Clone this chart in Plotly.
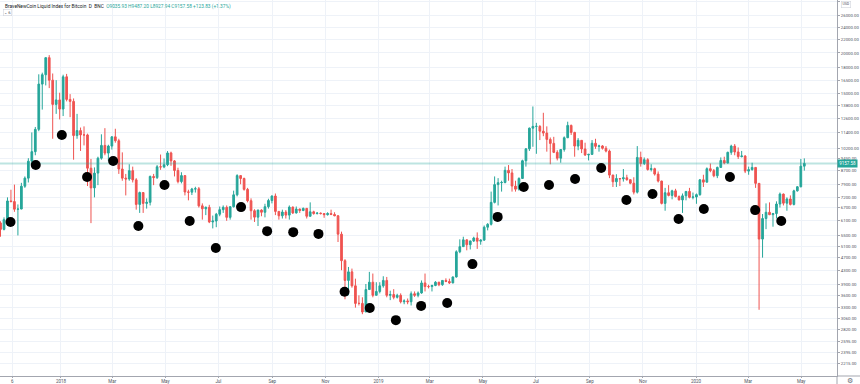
import math
import pandas as pd
import plotly.graph_objects as go

# ---------------- data ----------------
candle_start = "2017-10-22"          # first 4-day candle
candle_days = 4
first_open = 6010

closes = [5740, 6150, 7020, 6990, 6620, 6630, 7790, 8250, 9300, 9950,
          11650, 16050, 17150, 19350, 16500, 13900, 14350, 13450, 16900, 14400,
          14200, 11150, 11550, 11200, 11200, 8850, 7700, 8550, 9500, 10400,
          9850, 10350, 11050, 10750, 8800, 8250, 8200, 8700, 8150, 6850,
          7450, 6900, 6950, 8350, 8280, 8940, 8930, 9070, 9860, 9320,
          8710, 8050, 8400, 7480, 7470, 7640, 7650, 6780, 6640, 6710,
          6050, 6090, 6390, 6600, 6710, 6250, 6740, 7330, 8400, 8230,
          7620, 7030, 6550, 6260, 6580, 6480, 6740, 7040, 7270, 6520,
          6320, 6490, 6350, 6720, 6450, 6630, 6560, 6660, 6300, 6500,
          6420, 6440, 6420, 6370, 6420, 6380, 6320, 5550, 4600, 4000,
          4250, 3850, 3400, 3400, 3200, 3750, 3950, 3600, 3700, 3850,
          4000, 3600, 3620, 3550, 3600, 3440, 3460, 3440, 3640, 3600,
          3660, 3930, 3830, 3830, 3860, 3950, 3880, 4000, 3970, 3930,
          4100, 4900, 5080, 5330, 5150, 5290, 5400, 5280, 5320, 5830,
          5950, 6950, 7880, 7990, 8000, 8720, 8560, 7800, 7630, 8230,
          9330, 10150, 11750, 11900, 11900, 11500, 11350, 10850, 10550, 9900,
          9500, 10100, 10980, 11980, 11400, 10350, 10780, 10140, 9720, 9760,
          10560, 10330, 10360, 10190, 9990, 8430, 8040, 8230, 8210, 8270,
          8160, 7960, 7470, 9550, 9150, 9400, 8770, 8820, 8490, 8080,
          6900, 7440, 7300, 7540, 7240, 7070, 7280, 7510, 7200, 7220,
          7340, 8150, 8020, 8820, 8700, 8390, 8900, 9350, 9180, 9900,
          10350, 9930, 9610, 9650, 8670, 8760, 8900, 7950, 5360, 6200,
          6480, 6370, 6420, 6870, 7370, 6910, 7120, 6850, 7540, 7760,
          8980, 9157.58]

highs = [6080, 6250, 7200, 7600, 7880, 6850, 7980, 8350, 9500, 11400,
         11850, 17200, 17400, 19400, 19700, 17300, 16500, 15100, 17150, 17250,
         14950, 14500, 13000, 11800, 11900, 11300, 9450, 8900, 9600, 11250,
         11750, 10450, 11100, 11700, 10900, 9900, 8500, 9100, 8950, 8250,
         7500, 7450, 7150, 8400, 8500, 9050, 9750, 9480, 9990, 9950,
         9380, 8880, 8600, 8400, 7600, 7700, 7760, 7750, 6900, 6750,
         6830, 6330, 6450, 6750, 6800, 6800, 6750, 7550, 8480, 8400,
         8280, 7700, 7150, 6620, 6600, 6620, 6880, 7130, 7300, 7400,
         6520, 6600, 6580, 6800, 6750, 6750, 6650, 6700, 6680, 6950,
         6550, 6490, 6470, 6440, 6480, 6600, 6480, 6350, 5650, 4650,
         4400, 4350, 4050, 3600, 3550, 3900, 4250, 4200, 3950, 3950,
         4120, 4100, 3720, 3760, 3640, 3650, 3500, 3520, 3700, 3700,
         3700, 4000, 4200, 3880, 3880, 3980, 3960, 4010, 4060, 4050,
         4110, 4950, 5350, 5450, 5350, 5300, 5450, 5620, 5350, 5900,
         6000, 7500, 8350, 8250, 8100, 8950, 9050, 8800, 8100, 8300,
         9400, 10200, 11800, 13700, 12200, 12000, 13100, 11900, 11000, 11050,
         10050, 10120, 11080, 12300, 12050, 11450, 10950, 10800, 10600, 9800,
         10800, 10900, 10450, 10420, 10350, 10100, 8450, 8480, 8250, 8800,
         8450, 8150, 8300, 10350, 9950, 9550, 9500, 9100, 8880, 8650,
         8100, 7700, 7850, 7600, 7650, 7300, 7400, 7520, 7700, 7450,
         7400, 8200, 8450, 8900, 9150, 8800, 8950, 9550, 9600, 9950,
         10450, 10500, 10250, 10000, 9700, 8950, 9200, 8900, 7950, 6400,
         6900, 6950, 6450, 7000, 7450, 7400, 7200, 7300, 7600, 7800,
         9450, 9487.20]

lows = [5450, 5700, 6050, 6950, 6500, 5500, 6620, 7700, 8000, 9000,
        9700, 11500, 13400, 15900, 15600, 10900, 13000, 12500, 12800, 14200,
        12700, 9400, 10900, 10000, 10400, 7800, 6000, 7200, 7850, 9400,
        9700, 9300, 10100, 10600, 8500, 8100, 7300, 8100, 8000, 6600,
        6450, 6450, 6650, 6800, 7850, 8200, 8750, 8850, 8980, 9000,
        8350, 7950, 7950, 7300, 7050, 7320, 7450, 6700, 6150, 6350,
        6000, 5780, 5830, 6300, 6450, 6100, 6150, 6700, 7250, 7900,
        7550, 6950, 6150, 6050, 5880, 6300, 6250, 6650, 6900, 6350,
        6150, 6200, 6200, 6150, 6400, 6420, 6450, 6530, 6200, 6280,
        6370, 6380, 6380, 6230, 6330, 6350, 6300, 5250, 4300, 3500,
        3600, 3800, 3300, 3350, 3150, 3200, 3750, 3550, 3600, 3650,
        3800, 3550, 3480, 3500, 3520, 3400, 3380, 3380, 3350, 3560,
        3550, 3640, 3700, 3780, 3700, 3840, 3840, 3850, 3950, 3900,
        3920, 4080, 4850, 5100, 4950, 4980, 5250, 5000, 5150, 5300,
        5700, 5900, 6900, 6800, 7500, 7950, 8100, 7500, 7500, 7550,
        8200, 8950, 10000, 10300, 9800, 10800, 11100, 9950, 9100, 9850,
        9350, 9200, 9950, 10950, 11200, 9600, 10050, 9850, 9650, 9350,
        9750, 10150, 9950, 10100, 9900, 8250, 7750, 7750, 7800, 8050,
        8100, 7900, 7350, 7400, 8950, 9050, 8700, 8650, 8400, 8000,
        6850, 6550, 7250, 7100, 7200, 7050, 6450, 7050, 7150, 7100,
        6880, 7280, 7750, 8000, 8600, 8300, 8250, 8880, 9100, 9150,
        9730, 9700, 9450, 9550, 8550, 8450, 8700, 7700, 3250, 4700,
        5750, 6350, 5850, 6200, 6700, 6800, 6550, 6800, 6800, 7500,
        7730, 8700]

opens = [first_open] + closes[:-1]

moon_dates = ["2017-11-04", "2017-12-03", "2018-01-02", "2018-01-31", "2018-03-02",
              "2018-03-31", "2018-04-30", "2018-05-29", "2018-06-28", "2018-07-27",
              "2018-08-26", "2018-09-25", "2018-10-24", "2018-11-23", "2018-12-22",
              "2019-01-21", "2019-02-19", "2019-03-21", "2019-04-19", "2019-05-18",
              "2019-06-17", "2019-07-16", "2019-08-15", "2019-09-14", "2019-10-13",
              "2019-11-12", "2019-12-12", "2020-01-10", "2020-02-09", "2020-03-09",
              "2020-04-08"]
moon_values = [6050, 9050, 11190, 8320, 9310, 5880, 7860, 6090, 5030, 6720,
               5670, 5630, 5560, 3690, 3290, 3020, 3340, 3410, 4490, 6270,
               7750, 7860, 8200, 8860, 7070, 7370, 6180, 6630, 8320, 6580,
               6090]

x_tick_dates = ["2017-11-06", "2018-01-01", "2018-03-01", "2018-05-01", "2018-07-01",
                "2018-09-01", "2018-11-01", "2019-01-01", "2019-03-01", "2019-05-01",
                "2019-07-01", "2019-09-01", "2019-11-01", "2020-01-01", "2020-03-01",
                "2020-05-01"]
x_tick_text = ["6", "2018", "Mar", "May", "Jul", "Sep", "Nov", "2019", "Mar", "May",
               "Jul", "Sep", "Nov", "2020", "Mar", "May"]

y_tick_vals = [28800, 26000, 24000, 22000, 20000, 18000, 16500, 15000, 13800, 12600,
               11400, 10200, 9450, 8700, 7900, 7200, 6700, 6100, 5500, 5100,
               4700, 4300, 3900, 3600, 3300, 3060, 2820, 2595, 2395, 2215]
y_tick_text = [f"{v:.2f}" for v in y_tick_vals]

header_name = "BraveNewCoin Liquid Index for Bitcoin\u00a0\u00a0D\u00a0\u00a0BNC"
header_ohlc = "O9035.93\u00a0H9487.20\u00a0L8927.94\u00a0C9157.58\u00a0+123.83\u00a0(+1.37%)"

x_range = ["2017-10-22 22:00", "2020-06-11 02:00"]
y_range = [math.log10(2034), math.log10(29100)]

# ---------------- figure ----------------
UP = "#26a69a"
DOWN = "#ef5350"
GRID = "#eef2f8"
AXIS = "#a3a6af"
TXT = "#50535e"
FONT = "Roboto"

candle_x = pd.date_range(candle_start, periods=len(closes), freq=f"{candle_days}D") + pd.Timedelta(hours=36)

fig = go.Figure()
fig.add_trace(go.Candlestick(
    x=candle_x, open=opens, high=highs, low=lows, close=closes,
    increasing=dict(line=dict(color=UP, width=1), fillcolor=UP),
    decreasing=dict(line=dict(color=DOWN, width=1), fillcolor=DOWN),
    whiskerwidth=0, hoverinfo="skip", showlegend=False,
))

# last price line
fig.add_trace(go.Scatter(
    x=x_range, y=[closes[-1], closes[-1]], mode="lines",
    line=dict(color="rgba(38,166,154,0.30)", width=2),
    hoverinfo="skip", showlegend=False,
))

# moon dots
fig.add_trace(go.Scatter(
    x=pd.to_datetime(moon_dates), y=moon_values, mode="markers",
    marker=dict(color="black", size=10, line=dict(width=0)),
    hoverinfo="skip", showlegend=False,
))

fig.update_layout(
    template="none",
    width=860, height=384,
    margin=dict(l=0, r=23, t=0, b=8, pad=0, autoexpand=False),
    paper_bgcolor="white", plot_bgcolor="white",
    font=dict(family=FONT, size=5, color=TXT),
    showlegend=False,
    hovermode=False,
    xaxis=dict(
        type="date", range=x_range, rangeslider=dict(visible=False),
        tickmode="array", tickvals=x_tick_dates, ticktext=x_tick_text,
        showgrid=True, gridcolor=GRID, gridwidth=1,
        showline=True, linecolor=AXIS, linewidth=1,
        ticks="outside", ticklen=1, tickcolor=AXIS,
        tickfont=dict(size=4.5, color=TXT, family=FONT),
        zeroline=False, fixedrange=True, automargin=False,
    ),
    yaxis=dict(
        type="log", side="right", range=y_range,
        tickmode="array", tickvals=y_tick_vals, ticktext=y_tick_text,
        showgrid=True, gridcolor=GRID, gridwidth=1,
        showline=True, linecolor=AXIS, linewidth=1,
        ticks="outside", ticklen=2, tickcolor=AXIS,
        tickfont=dict(size=4.3, color=TXT, family=FONT),
        zeroline=False, fixedrange=True, automargin=False,
    ),
)

# axis line extensions into margins
fig.add_shape(type="line", xref="paper", yref="paper", x0=1, x1=1, y0=-0.03, y1=0,
              line=dict(color=AXIS, width=1))
fig.add_shape(type="line", xref="paper", yref="paper", x0=1, x1=1.03, y0=0, y1=0,
              line=dict(color=AXIS, width=1))

# header
fig.add_annotation(
    xref="paper", yref="paper", x=0.003, y=0.998, xanchor="left", yanchor="top",
    text=(f"<span style='color:#131722'>{header_name}</span>\u00a0\u00a0"
          f"<span style='color:{UP}'>{header_ohlc}</span>"),
    showarrow=False, font=dict(size=4.8, family=FONT),
)
fig.add_annotation(
    xref="paper", yref="paper", x=0.004, y=0.975, xanchor="left", yanchor="top",
    text="\u2304 6", showarrow=False, font=dict(size=4.3, color=TXT, family=FONT),
    bordercolor="#d1d4dc", borderwidth=0.6, borderpad=0.6, bgcolor="white",
)

# last price label
fig.add_annotation(
    xref="paper", yref="y", x=1.0, y=math.log10(closes[-1]), xanchor="left", yanchor="middle",
    text=f"{closes[-1]:.2f}", showarrow=False,
    font=dict(size=4.5, color="white", family=FONT),
    bgcolor=UP, borderpad=1.2,
)

# top-right small box
fig.add_annotation(
    xref="paper", yref="paper", x=1.005, y=0.997, xanchor="left", yanchor="top",
    text="USD", showarrow=False, font=dict(size=3.6, color=TXT, family=FONT),
    bordercolor="#d1d4dc", borderwidth=0.6, borderpad=0.8, bgcolor="white",
)

# settings gear
fig.add_annotation(
    xref="paper", yref="paper", x=1.0155, y=-0.013, xanchor="center", yanchor="middle",
    text="\u2699", showarrow=False, font=dict(size=7, color="#6a6d78", family="DejaVu Sans"),
)

fig.write_html("out.html", config={"displayModeBar": False, "staticPlot": True},
               post_script="document.body.style.margin='0';document.body.style.overflow='hidden';")
